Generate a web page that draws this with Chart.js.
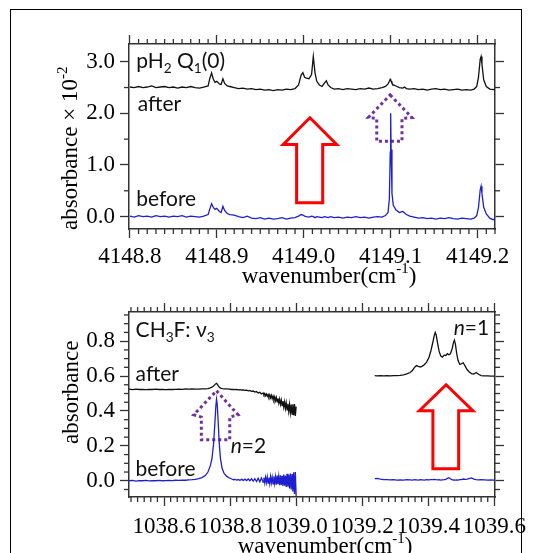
<!DOCTYPE html>
<html>
<head>
<meta charset="utf-8">
<script src="https://cdn.jsdelivr.net/npm/chart.js@4.4.1/dist/chart.umd.min.js"></script>
<style>
  html, body { margin: 0; padding: 0; background: #fff; }
  #page { position: relative; width: 548px; height: 553px; overflow: hidden; }
  #frame { position: absolute; left: 10px; top: 9px; width: 512px; height: 600px;
           border: 1.5px solid #000; box-sizing: border-box; }
  canvas { position: absolute; left: 0; }
  #upper { top: 0; }
  #lower { top: 290px; }
</style>
</head>
<body>
<div id="page">
  <div id="frame"></div>
  <canvas id="upper" width="548" height="290"></canvas>
  <canvas id="lower" width="548" height="263"></canvas>
</div>
<script>
// ---- upper panel: pH2 Q1(0) ----
const topX = [
  4148.800, 4148.805, 4148.810, 4148.815, 4148.820, 4148.825, 4148.830, 4148.835, 4148.840, 4148.845,
  4148.850, 4148.855, 4148.860, 4148.865, 4148.870, 4148.875, 4148.880, 4148.885, 4148.890, 4148.892,
  4148.894, 4148.896, 4148.898, 4148.900, 4148.903, 4148.905, 4148.907, 4148.909, 4148.912, 4148.915,
  4148.920, 4148.925, 4148.930, 4148.935, 4148.940, 4148.945, 4148.950, 4148.955, 4148.960, 4148.965,
  4148.970, 4148.975, 4148.980, 4148.985, 4148.990, 4148.994, 4148.997, 4148.999, 4149.001, 4149.003,
  4149.006, 4149.009, 4149.011, 4149.013, 4149.015, 4149.018, 4149.021, 4149.024, 4149.026, 4149.028,
  4149.031, 4149.035, 4149.040, 4149.045, 4149.050, 4149.055, 4149.060, 4149.065, 4149.070, 4149.075,
  4149.080, 4149.085, 4149.090, 4149.094, 4149.097, 4149.0985, 4149.0995, 4149.1000, 4149.1005, 4149.1015,
  4149.103, 4149.106, 4149.110, 4149.114, 4149.116, 4149.118, 4149.122, 4149.127, 4149.132, 4149.137,
  4149.142, 4149.147, 4149.152, 4149.157, 4149.162, 4149.167, 4149.172, 4149.177, 4149.182, 4149.187,
  4149.192, 4149.196, 4149.199, 4149.201, 4149.203, 4149.204, 4149.205, 4149.207, 4149.210, 4149.214,
  4149.218, 4149.220
];
const topAfter = [
  2.51, 2.50, 2.52, 2.50, 2.51, 2.53, 2.50, 2.51, 2.52, 2.50,
  2.51, 2.49, 2.51, 2.50, 2.52, 2.50, 2.49, 2.51, 2.53, 2.68,
  2.78, 2.66, 2.60, 2.62, 2.57, 2.56, 2.67, 2.58, 2.53, 2.52,
  2.50, 2.48, 2.49, 2.47, 2.48, 2.46, 2.47, 2.45, 2.46, 2.44,
  2.46, 2.45, 2.47, 2.46, 2.48, 2.55, 2.74, 2.79, 2.70, 2.68,
  2.67, 2.75, 3.10, 2.78, 2.62, 2.55, 2.52, 2.59, 2.63, 2.55,
  2.50, 2.47, 2.48, 2.46, 2.48, 2.47, 2.46, 2.48, 2.47, 2.49,
  2.47, 2.48, 2.50, 2.52, 2.57, 2.62, 2.66, 2.65, 2.62, 2.58,
  2.55, 2.53, 2.50, 2.49, 2.51, 2.48, 2.47, 2.48, 2.46, 2.47,
  2.45, 2.47, 2.48, 2.46, 2.47, 2.45, 2.46, 2.47, 2.45, 2.46,
  2.45, 2.47, 2.52, 2.70, 3.05, 3.10, 2.95, 2.65, 2.52, 2.47,
  2.46, 2.47
];
const topBefore = [
  0.01, -0.01, 0.02, 0.00, 0.01, -0.01, 0.02, 0.00, 0.01, -0.01,
  0.01, 0.00, 0.02, -0.01, 0.01, 0.00, -0.01, 0.01, 0.04, 0.15,
  0.25, 0.18, 0.14, 0.16, 0.10, 0.08, 0.20, 0.12, 0.06, 0.04,
  0.03, 0.00, -0.02, 0.01, -0.03, -0.04, -0.02, -0.05, -0.03, -0.05,
  -0.04, -0.02, -0.05, -0.03, -0.02, 0.01, 0.04, 0.03, 0.01, 0.00,
  -0.01, 0.01, 0.00, -0.02, 0.00, -0.01, -0.02, 0.00, -0.01, -0.02,
  0.00, -0.02, -0.01, -0.03, -0.01, -0.02, 0.00, -0.02, -0.01, -0.03,
  -0.01, 0.00, -0.01, 0.02, 0.08, 0.35, 1.25, 2.00, 1.30, 0.45,
  0.22, 0.13, 0.08, 0.10, 0.07, 0.04, 0.01, -0.01, -0.03, -0.02,
  -0.04, -0.03, -0.05, -0.03, -0.04, -0.02, -0.04, -0.05, -0.03, -0.04,
  -0.05, -0.03, 0.02, 0.18, 0.52, 0.59, 0.45, 0.18, 0.05, -0.03,
  -0.06, -0.05
];
const topXTicks = [4148.8, 4148.9, 4149.0, 4149.1, 4149.2];
const topYTicks = [0, 1, 2, 3];

// ---- lower panel: CH3F v3 ----
const lowLeftX = [
  1038.494, 1038.505, 1038.515, 1038.525, 1038.535, 1038.545, 1038.555, 1038.565, 1038.575, 1038.585,
  1038.595, 1038.605, 1038.615, 1038.625, 1038.635, 1038.645, 1038.655, 1038.665, 1038.675, 1038.685,
  1038.695, 1038.705, 1038.715, 1038.725, 1038.733, 1038.740, 1038.745, 1038.750, 1038.754, 1038.757,
  1038.759, 1038.761, 1038.764, 1038.767, 1038.771, 1038.776, 1038.782, 1038.790, 1038.798, 1038.805,
  1038.810, 1038.815, 1038.820, 1038.825, 1038.830, 1038.835, 1038.840, 1038.845, 1038.850, 1038.855,
  1038.860, 1038.865, 1038.870, 1038.875, 1038.880, 1038.885, 1038.890, 1038.895, 1038.900, 1038.9025,
  1038.905, 1038.9075, 1038.910, 1038.9125, 1038.915, 1038.9175, 1038.920, 1038.9225, 1038.925, 1038.9275,
  1038.930, 1038.9325, 1038.935, 1038.9375, 1038.940, 1038.9425, 1038.945, 1038.9475, 1038.950, 1038.9525,
  1038.955, 1038.9575, 1038.960, 1038.9625, 1038.965, 1038.9675, 1038.970, 1038.9725, 1038.975, 1038.9775,
  1038.980, 1038.9825, 1038.985, 1038.9875, 1038.990, 1038.9925, 1038.995, 1038.9975, 1039.000
];
const lowLeftAfter = [
  0.525, 0.522, 0.525, 0.523, 0.524, 0.522, 0.524, 0.523, 0.525, 0.523,
  0.524, 0.522, 0.524, 0.523, 0.524, 0.525, 0.524, 0.526, 0.525, 0.526,
  0.525, 0.525, 0.526, 0.526, 0.528, 0.532, 0.536, 0.543, 0.551, 0.556,
  0.558, 0.554, 0.545, 0.537, 0.531, 0.528, 0.527, 0.526, 0.525, 0.523,
  0.524, 0.522, 0.523, 0.521, 0.522, 0.520, 0.521, 0.518, 0.519, 0.515,
  0.517, 0.512, 0.514, 0.508, 0.511, 0.503, 0.507, 0.497, 0.503, 0.492,
  0.500, 0.488, 0.497, 0.484, 0.494, 0.480, 0.492, 0.475, 0.489, 0.470,
  0.485, 0.465, 0.481, 0.459, 0.477, 0.452, 0.472, 0.445, 0.468, 0.438,
  0.462, 0.430, 0.457, 0.422, 0.452, 0.414, 0.446, 0.406, 0.441, 0.398,
  0.438, 0.390, 0.436, 0.382, 0.438, 0.376, 0.440, 0.372, 0.425
];
const lowLeftBefore = [
  0.000, 0.002, -0.002, 0.001, 0.000, 0.002, -0.001, 0.001, 0.000, 0.002,
  0.000, 0.001, 0.002, 0.001, 0.003, 0.002, 0.004, 0.003, 0.005, 0.006,
  0.008, 0.012, 0.018, 0.030, 0.050, 0.085, 0.125, 0.210, 0.330, 0.430,
  0.468, 0.440, 0.340, 0.220, 0.125, 0.070, 0.042, 0.025, 0.016, 0.010,
  0.006, 0.008, 0.004, 0.007, 0.003, 0.008, 0.002, 0.009, 0.001, 0.010,
  0.000, 0.011, -0.002, 0.012, -0.004, 0.014, -0.006, 0.016, -0.008, 0.018,
  -0.012, 0.020, -0.010, 0.022, -0.014, 0.018, -0.016, 0.024, -0.012, 0.020,
  -0.018, 0.026, -0.016, 0.022, -0.022, 0.030, -0.020, 0.024, -0.026, 0.032,
  -0.024, 0.028, -0.030, 0.036, -0.028, 0.030, -0.036, 0.040, -0.034, 0.034,
  -0.044, 0.042, -0.050, 0.038, -0.062, 0.048, -0.075, 0.050, -0.088
];
const lowRightX = [
  1039.238, 1039.245, 1039.255, 1039.265, 1039.275, 1039.285, 1039.295, 1039.305, 1039.315, 1039.325,
  1039.335, 1039.345, 1039.352, 1039.358, 1039.364, 1039.370, 1039.376, 1039.382, 1039.388, 1039.395,
  1039.402, 1039.408, 1039.414, 1039.418, 1039.421, 1039.424, 1039.428, 1039.433, 1039.438, 1039.443,
  1039.448, 1039.453, 1039.458, 1039.462, 1039.467, 1039.472, 1039.476, 1039.479, 1039.482, 1039.486,
  1039.490, 1039.495, 1039.500, 1039.506, 1039.512, 1039.518, 1039.525, 1039.531, 1039.538, 1039.545,
  1039.552, 1039.560, 1039.570, 1039.580, 1039.590, 1039.600
];
const lowRightAfter = [
  0.602, 0.601, 0.602, 0.601, 0.602, 0.601, 0.602, 0.602, 0.604, 0.607,
  0.612, 0.620, 0.632, 0.648, 0.660, 0.655, 0.652, 0.657, 0.665, 0.680,
  0.706, 0.745, 0.795, 0.832, 0.850, 0.835, 0.790, 0.740, 0.715, 0.708,
  0.720, 0.718, 0.728, 0.722, 0.728, 0.755, 0.790, 0.806, 0.785, 0.730,
  0.690, 0.668, 0.670, 0.676, 0.655, 0.636, 0.622, 0.614, 0.612, 0.620,
  0.610, 0.603, 0.601, 0.601, 0.600, 0.600
];
const lowRightBefore = [
  0.012, 0.014, 0.010, 0.007, 0.006, 0.005, 0.006, 0.004, 0.005, 0.004,
  0.006, 0.005, 0.004, 0.006, 0.005, 0.004, 0.006, 0.005, 0.004, 0.006,
  0.005, 0.006, 0.007, 0.008, 0.007, 0.006, 0.005, 0.006, 0.004, 0.005,
  0.006, 0.008, 0.014, 0.018, 0.012, 0.006, 0.004, 0.005, 0.004, 0.005,
  0.004, 0.006, 0.007, 0.010, 0.008, 0.009, 0.014, 0.016, 0.010, 0.006,
  0.005, 0.006, 0.005, 0.004, 0.005, 0.004
];
const lowXTicks = [1038.6, 1038.8, 1039.0, 1039.2, 1039.4, 1039.6];
const lowYTicks = [0, 0.2, 0.4, 0.6, 0.8];

// arrows, in data units (wavenumber, absorbance)
const topRedArrow = [[4149.0071, 1.914], [4149.0379, 1.396], [4149.0218, 1.396], [4149.0218, 0.266],
                     [4148.9918, 0.266], [4148.9918, 1.396], [4148.9764, 1.396]];
const topPurpleArrow = [[4149.0994, 2.356], [4149.1244, 1.92], [4149.113, 1.90], [4149.113, 1.46],
                        [4149.084, 1.46], [4149.084, 1.90], [4149.0744, 1.92]];
const lowRedArrow = [[1039.454, 0.550], [1039.535, 0.401], [1039.492, 0.401], [1039.492, 0.069],
                     [1039.414, 0.069], [1039.414, 0.401], [1039.373, 0.401]];
const lowPurpleArrow = [[1038.759, 0.516], [1038.824, 0.378], [1038.799, 0.365], [1038.799, 0.235],
                        [1038.713, 0.235], [1038.713, 0.365], [1038.690, 0.378]];

const BLUE = '#1f1fd0';
const RED = '#ff0000';
const PURPLE = '#7030a0';
const AXIS = '#333';
const SERIF = 'Liberation Serif';
const SANS = 'Lato';

function series(xs, ys, color) {
  return {
    data: xs.map((x, i) => ({ x: x, y: ys[i] })),
    borderColor: color, borderWidth: 1.3, pointRadius: 0, tension: 0, fill: false
  };
}

// linear axis: labelled major ticks from the library, minor marks listed for the plugin
function makeAxis(id, minorList, pos, min, max, majors, step, digits, size, labels, pad) {
  const isMajor = v => majors.some(m => Math.abs(m - v) < step / 10);
  const vals = [];
  for (let i = Math.ceil(min / step - 1e-6); i <= Math.floor(max / step + 1e-6); i++) {
    const v = +(i * step).toFixed(4);
    if (!isMajor(v)) vals.push(v);
  }
  minorList.push({ id: id, pos: pos, vals: vals });
  const horiz = pos === 'top' || pos === 'bottom';
  return {
    type: 'linear', position: pos, min: min, max: max, display: true,
    afterBuildTicks: s => { s.ticks = majors.map(v => ({ value: v })); },
    afterFit: s => { if (horiz) s.height = size; else s.width = size; },
    border: { display: true, color: AXIS, width: 1.5 },
    grid: { display: true, drawOnChartArea: false, drawTicks: true, tickLength: 9, tickWidth: 1.3, color: AXIS },
    ticks: {
      display: labels, autoSkip: false, maxRotation: 0, minRotation: 0,
      padding: pad || 0, color: '#000', font: { family: SERIF, size: 23 },
      callback: v => v.toFixed(digits)
    }
  };
}

// short minor tick marks, placed with each scale's own value->pixel mapping
function minorTicks(list) {
  return {
    id: 'minorTicks',
    afterDraw(chart) {
      const ctx = chart.ctx, area = chart.chartArea;
      ctx.save();
      ctx.fillStyle = AXIS;
      list.forEach(m => {
        const s = chart.scales[m.id];
        m.vals.forEach(v => {
          const p = s.getPixelForValue(v);
          if (m.pos === 'bottom') ctx.fillRect(p - 0.65, area.bottom, 1.3, 5);
          else if (m.pos === 'top') ctx.fillRect(p - 0.65, area.top - 5, 1.3, 5);
          else if (m.pos === 'left') ctx.fillRect(area.left - 5, p - 0.65, 5, 1.3);
          else ctx.fillRect(area.right, p - 0.65, 5, 1.3);
        });
      });
      ctx.restore();
    }
  };
}

// text with subscripts / superscripts / italics
function drawRich(ctx, parts, x, y, size, family, measureOnly) {
  let cx = x;
  parts.forEach(p => {
    const kind = p[1] || '';
    const small = kind === 'sub' || kind === 'sup';
    const s = small ? size * 0.65 : size;
    const dy = kind === 'sub' ? size * 0.22 : kind === 'sup' ? -size * 0.42 : 0;
    ctx.font = (kind === 'i' ? 'italic ' : '') + s + 'px "' + family + '"';
    if (!measureOnly) ctx.fillText(p[0], cx, y + dy);
    cx += ctx.measureText(p[0]).width;
  });
  return cx - x;
}

function overlay(cfg) {
  const toPx = (chart, p) => [chart.scales.x.getPixelForValue(p[0]), chart.scales.y.getPixelForValue(p[1])];
  return {
    id: 'overlay',
    beforeDatasetsDraw(chart) {
      const ctx = chart.ctx;
      ctx.save();
      cfg.arrows.forEach(a => {
        ctx.beginPath();
        a.pts.forEach((p, i) => {
          const q = toPx(chart, p);
          if (i) ctx.lineTo(q[0], q[1]); else ctx.moveTo(q[0], q[1]);
        });
        ctx.closePath();
        ctx.strokeStyle = a.color;
        ctx.lineWidth = 3;
        ctx.lineJoin = 'miter';
        ctx.setLineDash(a.dash);
        ctx.stroke();
      });
      ctx.restore();
    },
    afterDraw(chart) {
      const ctx = chart.ctx, area = chart.chartArea;
      ctx.save();
      ctx.fillStyle = '#111';
      ctx.textBaseline = 'alphabetic';
      ctx.textAlign = 'left';
      cfg.labels.forEach(l => {
        const q = toPx(chart, l.at);
        drawRich(ctx, l.parts, q[0], q[1], 21, SANS);
      });
      // axis titles
      ctx.fillStyle = '#000';
      const xt = cfg.xTitle;
      const w = drawRich(ctx, xt.parts, 0, 0, 23, SERIF, true);
      drawRich(ctx, xt.parts, (area.left + area.right) / 2 + xt.dx - w / 2, area.bottom + xt.dy, 23, SERIF);
      const yt = cfg.yTitle;
      ctx.translate(area.left + yt.dx, area.bottom + yt.dy);
      ctx.rotate(-Math.PI / 2);
      drawRich(ctx, yt.parts, 0, 0, 23, SERIF);
      ctx.restore();
    }
  };
}

function baseOptions(scales) {
  return {
    responsive: false, animation: false, devicePixelRatio: 1, events: [],
    layout: { padding: 0 },
    plugins: { legend: { display: false }, tooltip: { enabled: false } },
    scales: scales
  };
}

const topMinor = [];
new Chart(document.getElementById('upper'), {
  type: 'line',
  data: { datasets: [series(topX, topAfter, '#111'), series(topX, topBefore, BLUE)] },
  options: baseOptions({
    x: makeAxis('x', topMinor, 'bottom', 4148.799, 4149.22, topXTicks, 0.01, 1, 61, true, 5),
    x2: makeAxis('x2', topMinor, 'top', 4148.799, 4149.22, topXTicks, 0.01, 1, 44, false),
    y: makeAxis('y', topMinor, 'left', -0.24, 3.343, topYTicks, 0.5, 1, 129, true, 5),
    y2: makeAxis('y2', topMinor, 'right', -0.24, 3.343, topYTicks, 0.5, 1, 53, false)
  }),
  plugins: [minorTicks(topMinor), overlay({
    arrows: [
      { pts: topRedArrow, color: RED, dash: [] },
      { pts: topPurpleArrow, color: PURPLE, dash: [3, 3] }
    ],
    labels: [
      { at: [4148.8073, 2.87], parts: [['pH'], ['2', 'sub'], [' Q'], ['1', 'sub'], ['(0)']] },
      { at: [4148.8091, 2.042], parts: [['after']] },
      { at: [4148.8073, 0.20], parts: [['before']] }
    ],
    xTitle: { parts: [['wavenumber(cm'], ['-1', 'sup'], [')']], dx: 17, dy: 54 },
    yTitle: { parts: [['absorbance × 10'], ['-2', 'sup']], dx: -52, dy: 1 }
  })]
});

const lowMinor = [];
new Chart(document.getElementById('lower'), {
  type: 'line',
  data: {
    datasets: [
      series(lowLeftX, lowLeftAfter, '#111'),
      series(lowLeftX, lowLeftBefore, BLUE),
      series(lowRightX, lowRightAfter, '#111'),
      series(lowRightX, lowRightBefore, BLUE)
    ]
  },
  options: baseOptions({
    x: makeAxis('x', lowMinor, 'bottom', 1038.494, 1039.602, lowXTicks, 0.02, 1, 56, true, 7),
    x2: makeAxis('x2', lowMinor, 'top', 1038.494, 1039.602, lowXTicks, 0.02, 1, 22, false),
    y: makeAxis('y', lowMinor, 'left', -0.093, 0.967, lowYTicks, 0.05, 1, 129, true, 5),
    y2: makeAxis('y2', lowMinor, 'right', -0.093, 0.967, lowYTicks, 0.05, 1, 53, false)
  }),
  plugins: [minorTicks(lowMinor), overlay({
    arrows: [
      { pts: lowRedArrow, color: RED, dash: [] },
      { pts: lowPurpleArrow, color: PURPLE, dash: [3, 3] }
    ],
    labels: [
      { at: [1038.514, 0.824], parts: [['CH'], ['3', 'sub'], ['F: ν'], ['3', 'sub']] },
      { at: [1038.514, 0.573], parts: [['after']] },
      { at: [1038.514, 0.025], parts: [['before']] },
      { at: [1038.802, 0.159], parts: [['n', 'i'], ['=2']] },
      { at: [1039.477, 0.837], parts: [['n', 'i'], ['=1']] }
    ],
    xTitle: { parts: [['wavenumber(cm'], ['-1', 'sup'], [')']], dx: 13, dy: 56 },
    yTitle: { parts: [['absorbance']], dx: -51, dy: -53 }
  })]
});
</script>
</body>
</html>
